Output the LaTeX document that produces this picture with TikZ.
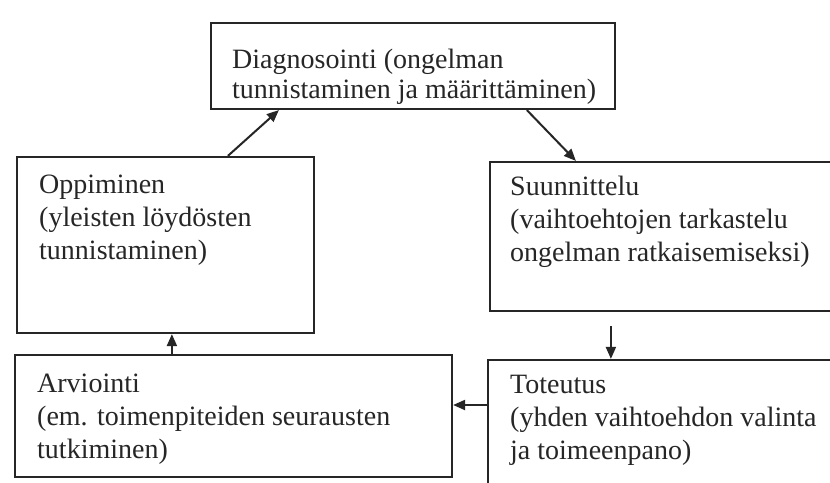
\documentclass[tikz,border=0pt]{standalone}
\usepackage{fontspec}
\setmainfont{Liberation Serif}
\usetikzlibrary{arrows.meta}
\begin{document}
\begin{tikzpicture}[x=1pt,y=-1pt,
  box/.style={draw=black!85, line width=2.2pt, inner sep=0pt},
  txt/.style={inner sep=0pt, align=left, anchor=base west, text=black!85},
  fa/.style={font=\fontsize{28}{30}\selectfont},
  fb/.style={font=\fontsize{28}{33}\selectfont},
  arr/.style={draw=black!85, line width=2pt, -{Triangle[length=12pt,width=10pt]}}
]
\clip (0,0) rectangle (830,482);
\fill[white] (0,0) rectangle (830,482);
% boxes
\node[box, minimum width=404pt, minimum height=86pt] (diag) at (413,66) {};
\node[box, minimum width=297pt, minimum height=176pt] (opp) at (165.5,245) {};
\node[box, minimum width=360pt, minimum height=149pt] (suun) at (670,236.5) {};
\node[box, minimum width=437pt, minimum height=122pt] (arv) at (233.5,416) {};
\node[box, minimum width=362pt, minimum height=140pt] (tot) at (669,430) {};
% texts (base = last line)
\node[txt, fa] (diagt) at (232,98) {Diagnosointi (ongelman\\tunnistaminen ja määrittäminen)};
\node[txt, fb] (oppt) at (39,259) {Oppiminen\\(yleisten löydösten\\tunnistaminen)};
\node[txt, fb] (suunt) at (510,261) {Suunnittelu\\(vaihtoehtojen tarkastelu\\ongelman ratkaisemiseksi)};
\node[txt, fb] (arvt) at (37,458) {Arviointi\\(em. toimenpiteiden seurausten\\tutkiminen)};
\node[txt, fb] (tott) at (510,459) {Toteutus\\(yhden vaihtoehdon valinta\\ja toimeenpano)};
% connectors
\draw[arr] ([xshift=212pt]opp.north west) -- ([xshift=69pt]diag.south west);
\draw[arr] ([xshift=317pt]diag.south west) -- ([xshift=87pt]suun.north west);
\coordinate (s3) at ([xshift=122pt,yshift=-14pt]suun.south west);
\draw[arr] (s3) -- (s3 |- tot.north);
\draw[arr] ([yshift=25pt]tot.west) -- ([yshift=25pt]tot.west -| arv.east);
\draw[arr] ([xshift=158pt]arv.north west) -- ([xshift=158pt]arv.north west |- opp.south);
\end{tikzpicture}
\end{document}
